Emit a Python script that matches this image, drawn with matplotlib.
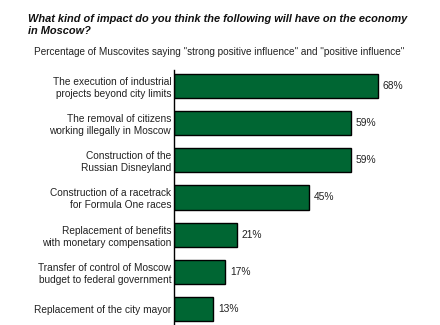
import matplotlib.pyplot as plt

# survey items and shares (percent)
labels = [
    "The execution of industrial\nprojects beyond city limits",
    "The removal of citizens\nworking illegally in Moscow",
    "Construction of the\nRussian Disneyland",
    "Construction of a racetrack\nfor Formula One races",
    "Replacement of benefits\nwith monetary compensation",
    "Transfer of control of Moscow\nbudget to federal government",
    "Replacement of the city mayor",
]
values = [68, 59, 59, 45, 21, 17, 13]

plt.rcParams['font.family'] = ['Liberation Sans', 'DejaVu Sans']

W, H = 440, 325
fig = plt.figure(figsize=(W / 100, H / 100), dpi=100)
fig.patch.set_facecolor('white')

# axes placed in pixel terms: left spine at x=174, top y=70, bottom at edge
ax = fig.add_axes([174 / W, 0, 1 - 174 / W, (H - 70) / H])
pos = list(range(len(values)))
bars = ax.barh(pos, values, height=0.65, color='#006633', edgecolor='black', linewidth=1)
ax.set_xlim(0, (W - 174) / 3)
ax.set_ylim(len(values) - 1 + 0.43, -0.43)

for y, v in zip(pos, values):
    ax.text(v + 1.6, y, f"{v}%", va='center', ha='left', fontsize=7.4, color='#222222')

ax.set_yticks(pos)
ax.set_yticklabels(labels, fontsize=7.3, color='#222222', linespacing=1.25)
ax.tick_params(axis='y', length=0, pad=2)
ax.set_xticks([])
for s in ['top', 'right', 'bottom']:
    ax.spines[s].set_visible(False)
ax.spines['left'].set_linewidth(1)
ax.spines['left'].set_color('black')

fig.text(28 / W, 1 - 25 / H,
         "What kind of impact do you think the following will have on the economy\nin Moscow?",
         fontsize=7.9, fontweight='bold', style='italic', ha='left', va='center',
         linespacing=1.2, color='#111111')
fig.text(219 / W, 1 - 52 / H,
         'Percentage of Muscovites saying "strong positive influence" and "positive influence"',
         fontsize=7.2, ha='center', va='center', color='#222222')

fig.savefig('out.png', dpi=100)
